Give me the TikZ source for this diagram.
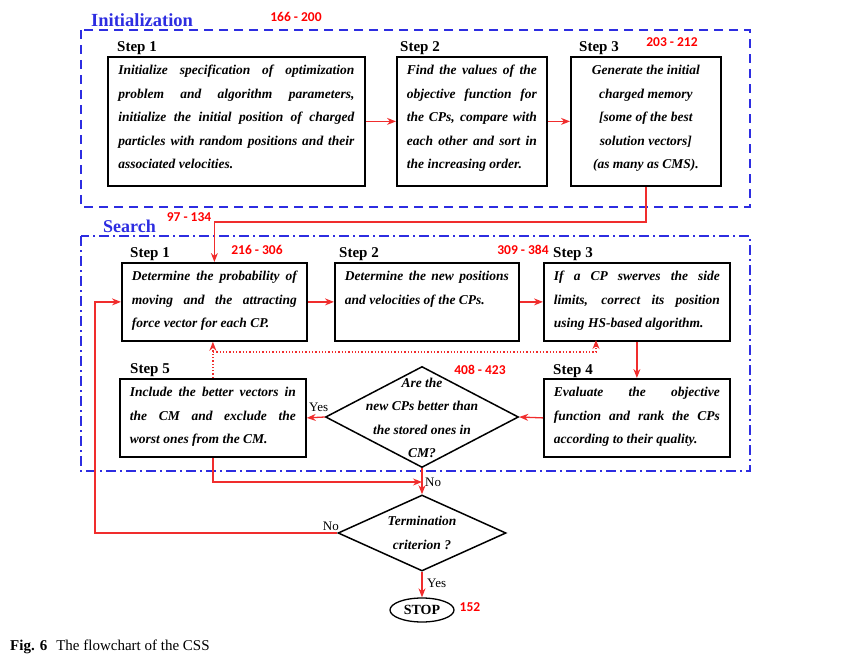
\documentclass[tikz,border=0pt]{standalone}
\usepackage{fontspec}
\setmainfont{Liberation Serif}
\newfontfamily\numfont{Carlito}
\usetikzlibrary{shapes.geometric,arrows.meta}
\definecolor{frameblue}{RGB}{45,45,225}
\definecolor{linered}{RGB}{240,45,45}
\definecolor{numred}{RGB}{255,0,0}
\newcommand{\boxtext}[3]{\parbox[t][#2][t]{#1}{\fontsize{13.5}{23.5}\selectfont\bfseries\itshape\rule{0pt}{18pt}#3}}
\newcommand{\jl}[1]{\makebox[\linewidth][s]{#1}\\}
\begin{document}
\begin{tikzpicture}[x=1pt,y=-1pt,
  stepbox/.style={draw, line width=1.8pt, inner xsep=10pt, inner ysep=0pt, anchor=north west},
  steplabel/.style={anchor=base west, inner sep=0pt, font=\fontsize{15}{15}\selectfont\bfseries},
  numlabel/.style={text=numred, inner sep=0pt, font=\numfont\fontsize{13.5}{13.5}\selectfont\bfseries},
  frametitle/.style={anchor=base west, inner sep=0pt, text=frameblue},
  initframe/.style={draw=frameblue, line width=2.2pt, dash pattern=on 9pt off 6pt},
  searchframe/.style={draw=frameblue, line width=2.2pt, dash pattern=on 10pt off 4pt on 2pt off 4pt},
  arr/.style={draw=linered, line width=1.3pt, -{Stealth[length=9pt,width=7pt]}},
  dotarr/.style={draw=linered, line width=1.3pt, dotted, -{Stealth[length=9pt,width=7pt]}},
  diam/.style={draw, shape=diamond, line width=1.5pt, inner sep=0pt},
  dtext/.style={align=center, inner sep=0pt, font=\fontsize{13.5}{23.5}\selectfont\bfseries\itshape},
  yesno/.style={inner sep=0pt, font=\fontsize{13}{13}\selectfont}
]
\useasboundingbox (0,0) rectangle (846,663);

% frames
\draw[initframe] (81,30) rectangle (750,207);
\node[frametitle, font=\fontsize{18.5}{18.5}\selectfont\bfseries] (tinit) at (91,27) {Initialization};
\draw[searchframe] (81,236) rectangle (750,471);
\node[frametitle, font=\fontsize{18}{18}\selectfont\bfseries] (tsearch) at (103,233) {Search};

% initialization boxes
\node[stepbox, inner xsep=10.5pt] (i1) at (107,56) {\boxtext{236pt}{129pt}{%
\jl{Initialize specification of optimization}\jl{problem and algorithm parameters,}\jl{initialize the initial position of charged}\jl{particles with random positions and their}associated velocities.}};
\node[stepbox] (i2) at (396,56) {\boxtext{130pt}{129pt}{%
\jl{Find the values of the}\jl{objective function for}\jl{the CPs, compare with}\jl{each other and sort in}the increasing order.}};
\node[stepbox] (i3) at (570,56) {\boxtext{130pt}{129pt}{\centering
Generate the initial\\ charged memory\\ {[}some of the best\\ solution vectors{]}\\ (as many as CMS).}};
\node[steplabel] (li1) at (117,52) {Step 1};
\node[steplabel] (li2) at (400,52) {Step 2};
\node[steplabel] (li3) at (579,52) {Step 3};

% search boxes
\node[stepbox] (s1) at (121,262) {\boxtext{165pt}{78pt}{%
\jl{Determine the probability of}\jl{moving and the attracting}force vector for each CP.}};
\node[stepbox] (s2) at (334,262) {\boxtext{164pt}{78pt}{%
\jl{Determine the new positions}and velocities of the CPs.}};
\node[stepbox] (s3) at (543,262) {\boxtext{166pt}{78pt}{%
\jl{If a CP swerves the side}\jl{limits, correct its position}using HS-based algorithm.}};
\node[stepbox] (s4) at (543,378) {\boxtext{166pt}{78pt}{%
\jl{Evaluate the objective}\jl{function and rank the CPs}according to their quality.}};
\node[stepbox] (s5) at (119,378) {\boxtext{166pt}{78pt}{%
\jl{Include the better vectors in}\jl{the CM and exclude the}worst ones from the CM.}};
\node[steplabel] (ls1) at (130,258) {Step 1};
\node[steplabel] (ls2) at (339,258) {Step 2};
\node[steplabel] (ls3) at (553,258) {Step 3};
\node[steplabel] (ls4) at (553,374) {Step 4};
\node[steplabel] (ls5) at (130,373) {Step 5};

% decisions
\node[diam, minimum width=193pt, minimum height=101pt] (d1) at (422,417) {};
\node[dtext] (d1t) at (422,418) {Are the\\new CPs better than\\the stored ones in\\CM?};
\node[diam, minimum width=168pt, minimum height=76pt] (t) at (422,533) {};
\node[dtext] (tt) at (422,533) {Termination\\criterion ?};
\node[draw, shape=ellipse, line width=1.3pt, minimum width=64pt, minimum height=24pt, inner sep=0pt,
      font=\fontsize{14}{14}\selectfont\bfseries] (stop) at (422,610) {STOP};

% connectors
\coordinate (tp) at (0,222);
\coordinate (mg) at (0,482);
\coordinate (lp) at (95,0);
\coordinate (dj) at (0,352);
\coordinate (s3d) at (596,340);
\draw[arr] (i1.east) -- (i2.west);
\draw[arr] (i2.east) -- (i3.west);
\draw[arr] (i3.south) -- (i3.south |- tp) -| (s1.north);
\draw[arr] (s1.east) -- (s2.west);
\draw[arr] (s2.east) -- (s3.west);
\draw[arr] (s3.south) -- (s4.north);
\draw[arr] (s4.west) -- (d1.east);
\draw[arr] (d1.west) -- (s5.east);
\draw[arr] (s5.south) |- (mg -| d1.south);
\draw[arr] (d1.south) -- (t.north);
\draw[arr] (t.west) -- (t.west -| lp) |- (s1.west);
\draw[arr] (t.south) -- (stop.north);
\draw[dotarr] (s5.north) -- (s5.north |- s1.south);
\draw[dotarr] (s5.north |- dj) -| (s3d);

% yes/no labels
\node[yesno, anchor=base west] (y1) at (309,411) {Yes};
\node[yesno, anchor=base west] (n1) at (425,486) {No};
\node[yesno, anchor=base east] (n2) at (339,530) {No};
\node[yesno, anchor=base west] (y2) at (427,587) {Yes};

% red page numbers
\node[numlabel] (n166) at (296,17) {166 - 200};
\node[numlabel] (n203) at (672,42) {203 - 212};
\node[numlabel] (n97) at (189,217) {97 - 134};
\node[numlabel] (n216) at (257,250) {216 - 306};
\node[numlabel] (n309) at (523,250) {309 - 384};
\node[numlabel] (n408) at (480,370) {408 - 423};
\node[numlabel] (n152) at (470,607) {152};

% caption
\node[anchor=base west, inner sep=0pt, font=\fontsize{15}{15}\selectfont] (cap) at (10,650) {\textbf{Fig. 6}\hspace{0.6em}The flowchart of the CSS};
\end{tikzpicture}
\end{document}
